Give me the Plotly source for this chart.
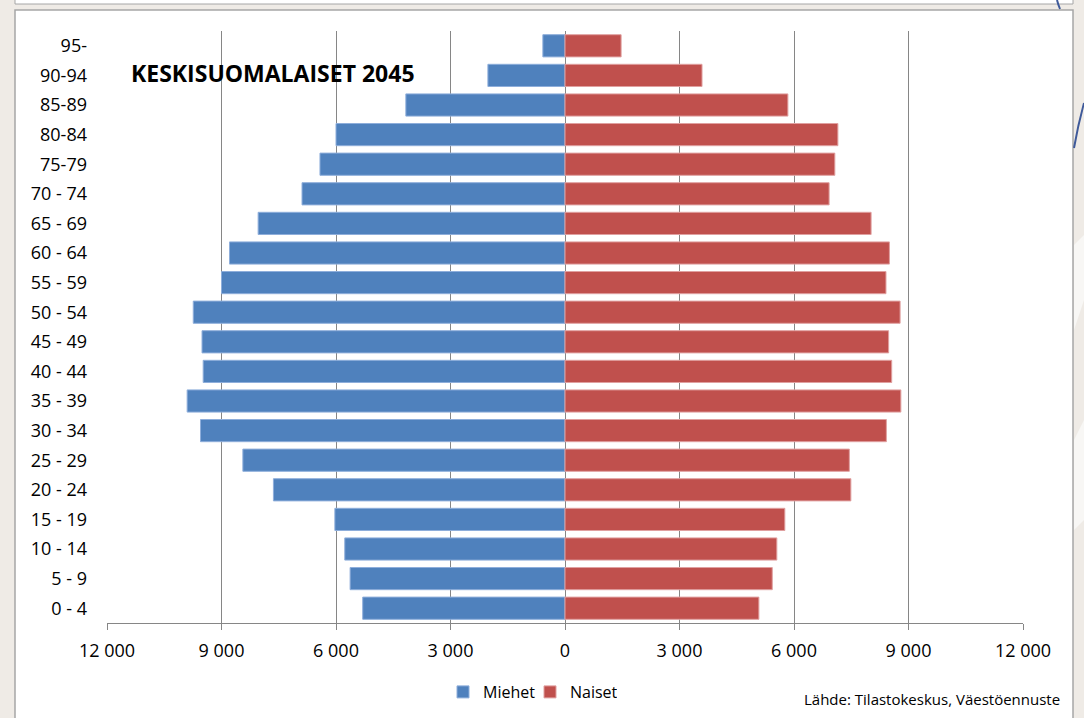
import plotly.graph_objects as go

# age groups, bottom to top
age_groups = ["0 - 4", "5 - 9", "10 - 14", "15 - 19", "20 - 24", "25 - 29", "30 - 34",
              "35 - 39", "40 - 44", "45 - 49", "50 - 54", "55 - 59", "60 - 64", "65 - 69",
              "70 - 74", "75-79", "80-84", "85-89", "90-94", "95-"]

miehet = [5300, 5630, 5770, 6030, 7640, 8440, 9550, 9900, 9480, 9510, 9740, 9000,
          8790, 8040, 6890, 6420, 6000, 4170, 2020, 580]
naiset = [5080, 5430, 5550, 5760, 7490, 7450, 8420, 8800, 8560, 8480, 8780, 8410,
          8500, 8020, 6920, 7070, 7150, 5840, 3590, 1470]

tick_vals = [-12000, -9000, -6000, -3000, 0, 3000, 6000, 9000, 12000]
tick_text = ["12 000", "9 000", "6 000", "3 000", "0", "3 000", "6 000", "9 000", "12 000"]

W, H = 1084, 718
FONT = "Open Sans"


def px(x):
    return x / W


def py(y):
    return 1 - y / H


fig = go.Figure()

fig.add_bar(y=age_groups, x=[-v for v in miehet], orientation="h", name="Miehet",
            marker=dict(color="#4f81bd", line=dict(color="#8eaedb", width=1)),
            customdata=miehet, hovertemplate="%{y}: %{customdata}<extra>Miehet</extra>")
fig.add_bar(y=age_groups, x=naiset, orientation="h", name="Naiset",
            marker=dict(color="#c0504d", line=dict(color="#e0a0a0", width=1)),
            customdata=naiset, hovertemplate="%{y}: %{customdata}<extra>Naiset</extra>")

shapes = [
    # top strip of the slide
    dict(type="rect", xref="paper", yref="paper", x0=px(15), x1=px(1073), y0=py(4), y1=py(-5),
         fillcolor="white", line=dict(color="#a6a6a6", width=1), layer="below"),
    # chart panel
    dict(type="rect", xref="paper", yref="paper", x0=px(15), x1=px(1073), y0=py(725), y1=py(10),
         fillcolor="white", line=dict(color="#a6a6a6", width=1.5), layer="below"),
    # faint background shapes on the right
    dict(type="path", xref="paper", yref="paper",
         path=f"M {px(1084)},{py(235)} L {px(1074)},{py(245)} L {px(1074)},{py(330)} L {px(1084)},{py(300)} Z",
         fillcolor="#f8f7f5", line=dict(width=0), layer="below"),
    dict(type="path", xref="paper", yref="paper",
         path=f"M {px(1084)},{py(420)} L {px(1074)},{py(440)} L {px(1074)},{py(530)} L {px(1084)},{py(520)} Z",
         fillcolor="#f8f7f5", line=dict(width=0), layer="below"),
    # blue decorative curve
    dict(type="path", xref="paper", yref="paper",
         path=f"M {px(1057)},{py(0)} Q {px(1058)},{py(4)} {px(1060)},{py(9)}",
         line=dict(color="#3f5a9a", width=2)),
    dict(type="path", xref="paper", yref="paper",
         path=f"M {px(1074)},{py(148)} Q {px(1078)},{py(125)} {px(1084)},{py(103)}",
         line=dict(color="#3f5a9a", width=2)),
]

fig.update_layout(
    width=W, height=H,
    margin=dict(l=0, r=0, t=0, b=0),
    paper_bgcolor="#efebe6",
    plot_bgcolor="rgba(0,0,0,0)",
    barmode="relative",
    bargap=0.25,
    font=dict(family=FONT, size=18, color="#000000"),
    shapes=shapes,
    showlegend=True,
    legend=dict(orientation="h", x=px(443), y=py(692), xanchor="left", yanchor="middle",
                font=dict(family=FONT, size=16), bgcolor="rgba(0,0,0,0)",
                itemwidth=30, entrywidth=42, entrywidthmode="pixels", traceorder="normal"),
    annotations=[
        dict(text="<b>KESKISUOMALAISET 2045</b>", xref="paper", yref="paper",
             x=px(129), y=py(73), xanchor="left", yanchor="middle", showarrow=False,
             font=dict(family=FONT, size=23, color="#000000")),
        dict(text="Lähde: Tilastokeskus, Väestöennuste", xref="paper", yref="paper",
             x=px(1062), y=py(699), xanchor="right", yanchor="middle", showarrow=False,
             font=dict(family=FONT, size=15, color="#000000")),
    ],
)

fig.update_xaxes(
    domain=[px(107), px(1023)],
    range=[-12000, 12000],
    tickvals=tick_vals, ticktext=tick_text,
    showgrid=True, gridcolor="#868686", gridwidth=1,
    zeroline=False,
    showline=True, linecolor="#868686", linewidth=1,
    ticks="outside", ticklen=6, tickcolor="#868686",
    ticklabelstandoff=5,
    tickfont=dict(family=FONT, size=18),
    automargin=False, fixedrange=True,
)
fig.update_yaxes(
    domain=[py(623), py(31)],
    categoryorder="array", categoryarray=age_groups,
    showgrid=False, zeroline=False, showline=False,
    ticks="", ticklabelstandoff=19,
    tickfont=dict(family=FONT, size=18),
    automargin=False, fixedrange=True,
)

# the page body has a default margin; drop it so the figure fills the window
fig.write_html("out.html", config={"displayModeBar": False},
               post_script="document.body.style.margin='0';")
